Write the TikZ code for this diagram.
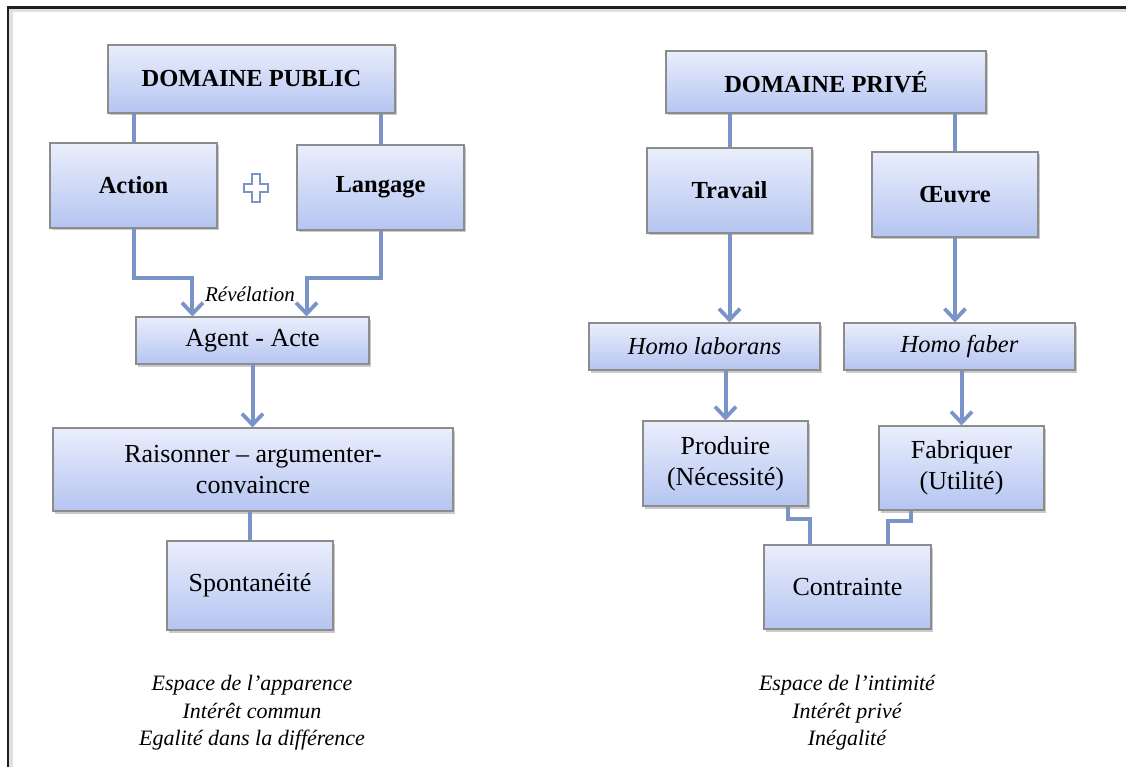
\documentclass[tikz,border=0pt]{standalone}
\usepackage{fontspec}
\setmainfont{Liberation Serif}
\usetikzlibrary{arrows.meta,shadows,calc}
\definecolor{conncol}{RGB}{122,147,201}
\definecolor{boxtop}{RGB}{234,238,252}
\definecolor{boxbot}{RGB}{181,197,241}
\definecolor{boxline}{RGB}{140,140,140}
\tikzset{
  box/.style={draw=boxline, line width=1.1pt, top color=boxtop, bottom color=boxbot,
    inner sep=0pt, align=center,
    drop shadow={shadow xshift=2pt, shadow yshift=-2.5pt, opacity=0.35, fill=black!60}},
  regtext/.style={font=\fontsize{26}{31}\selectfont},
  boldtext/.style={font=\fontsize{24.5}{29}\selectfont\bfseries},
  ittext/.style={font=\fontsize{24.5}{29}\selectfont\itshape},
  conn/.style={draw=conncol, line width=4pt},
  arr/.style={conn, -{Straight Barb[length=11pt,width=21pt,line width=3.8pt]}},
  note/.style={font=\fontsize{22}{27.5}\selectfont\itshape, align=center}
}
\begin{document}
\begin{tikzpicture}[x=1pt,y=-1pt]
\useasboundingbox (0,0) rectangle (1126,767);
% frame
\draw[line width=4pt, black!12] (10.5,767) -- (10.5,10.5) -- (1126,10.5);
\draw[line width=2.6pt, black!88] (8,767) -- (8,7.5) -- (1126,7.5);

% public side
\node[box, boldtext, minimum width=287pt, minimum height=68pt] (dpub) at (251.5,79) {DOMAINE PUBLIC};
\node[box, boldtext, minimum width=167pt, minimum height=85pt] (action) at (133.5,185.5) {Action};
\node[box, boldtext, minimum width=167pt, minimum height=85pt] (langage) at (380.5,187.5) {Langage};
\node[box, regtext, minimum width=233pt, minimum height=47pt] (agent) at (252.5,340.5) {Agent - Acte};
\node[box, regtext, minimum width=400pt, minimum height=83pt] (raison) at (253,469.5) {Raisonner – argumenter-\\convaincre};
\node[box, regtext, minimum width=166pt, minimum height=89pt] (spont) at (250,585.5) {Spontanéité};
\node[font=\fontsize{21}{25}\selectfont\itshape] (revel) at (250,294) {Révélation};

% plus sign
\draw[draw=conncol, line width=2.2pt, fill=white, line join=miter]
  (252,174) -- (260,174) -- (260,184) -- (268,184) -- (268,192) -- (260,192) --
  (260,202) -- (252,202) -- (252,192) -- (244,192) -- (244,184) -- (252,184) -- cycle;

\draw[conn] (dpub.south -| action.north) -- (action.north);
\draw[conn] (dpub.south -| langage.north) -- (langage.north);
\draw[arr] (action.south) -- ++(0,49) -| ([xshift=57pt]agent.north west);
\draw[arr] (langage.south) -- ++(0,47) -| ([xshift=-63pt]agent.north east);
\draw[arr] (agent.south) -- (agent.south |- raison.north);
\draw[conn] (spont.north |- raison.south) -- (spont.north);

\node[note] (pubnote) at (252,713) {Espace de l’apparence\\Intérêt commun\\Egalité dans la différence};

% private side
\node[box, boldtext, minimum width=320pt, minimum height=62pt] (dpriv) at (826,82) {DOMAINE PRIVÉ};
\node[box, boldtext, minimum width=165pt, minimum height=85pt] (travail) at (729.5,190.5) {Travail};
\node[box, boldtext, minimum width=166pt, minimum height=85pt] (oeuvre) at (955,194.5) {Œuvre};
\node[box, ittext, minimum width=231pt, minimum height=47pt] (laborans) at (704.5,346.5) {Homo laborans};
\node[box, ittext, minimum width=231pt, minimum height=47pt] (faber) at (959.5,346.5) {Homo faber};
\node[box, regtext, minimum width=165pt, minimum height=85pt] (produire) at (725.5,463.5) {Produire\\(Nécessité)};
\node[box, regtext, minimum width=165pt, minimum height=84pt] (fabriquer) at (961.5,468) {Fabriquer\\(Utilité)};
\node[box, regtext, minimum width=167pt, minimum height=84pt] (contrainte) at (847.5,587) {Contrainte};

\draw[conn] (dpriv.south -| travail.north) -- (travail.north);
\draw[conn] (dpriv.south -| oeuvre.north) -- (oeuvre.north);
\draw[arr] (travail.south) -- (travail.south |- laborans.north);
\draw[arr] (oeuvre.south) -- (oeuvre.south |- faber.north);
\draw[arr] (produire.north |- laborans.south) -- (produire.north);
\draw[arr] (fabriquer.north |- faber.south) -- (fabriquer.north);
\draw[conn] ([xshift=62.5pt]produire.south) -- ++(0,12) -| ([xshift=-37.5pt]contrainte.north);
\draw[conn] ([xshift=-50.5pt]fabriquer.south) -- ++(0,10) -| ([xshift=40.5pt]contrainte.north);

\node[note] (privnote) at (847,713) {Espace de l’intimité\\Intérêt privé\\Inégalité};
\end{tikzpicture}
\end{document}
